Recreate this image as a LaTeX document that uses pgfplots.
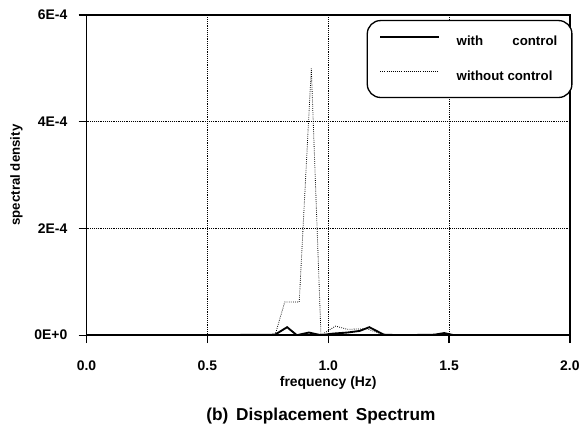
\documentclass[border=0pt]{standalone}
\usepackage{fontspec}
\setmainfont{Liberation Sans}
\usepackage{pgfplots}
\pgfplotsset{compat=1.18}
\begin{document}
\begin{tikzpicture}[x=1pt,y=1pt]
\path (0,0) rectangle (438pt,321.75pt);
\begin{axis}[
  at={(65.25pt,69pt)}, anchor=south west,
  scale only axis,
  width=364.5pt, height=241.5pt,
  xmin=0, xmax=2, ymin=0, ymax=6e-4,
  xtick={0,0.5,1,1.5,2},
  ytick={0,2e-4,4e-4,6e-4},
  yticklabels={0E+0,2E-4,4E-4,6E-4},
  scaled y ticks=false,
  /pgf/number format/fixed,
  /pgf/number format/fixed zerofill,
  /pgf/number format/precision=1,
  /pgf/number format/assume math mode=true,
  xticklabel style={anchor=center, yshift=-17pt},
  yticklabel style={xshift=-5pt},
  tick label style={font=\fontsize{10.5}{12}\selectfont\bfseries},
  tick pos=left,
  tick align=outside,
  major tick length=6pt,
  axis line style={line width=1.3pt},
  major tick style={line width=1pt,black},
  grid=major,
  major grid style={densely dotted, black, line width=0.5pt},
  xlabel={frequency (Hz)},
  ylabel={spectral density},
  xlabel style={at={(axis description cs:0.5,0)}, anchor=center, yshift=-36pt,
    font=\fontsize{10.5}{12}\selectfont\bfseries},
  ylabel style={font=\fontsize{10}{12}\selectfont\bfseries, yshift=2pt},
  legend style={at={(1,1)}, xshift=2pt, yshift=-3.75pt, anchor=north east,
    draw=black, line width=1pt, rounded corners=10pt,
    font=\fontsize{10}{12}\selectfont\bfseries,
    inner xsep=9pt, inner ysep=9pt, row sep=12pt,
    nodes={text height=8pt, text depth=2pt},
    /tikz/every odd column/.append style={column sep=11pt}},
  legend cell align=left,
  legend image code/.code={\draw[#1] (0pt,3.5pt) -- (44pt,3.5pt);},
]
\addplot[black, line width=1.4pt, legend image post style={line width=1.4pt}] coordinates {
 (0,0) (0.5,0) (0.78,0.01e-4) (0.83,0.15e-4) (0.87,0) (0.92,0.05e-4)
 (0.97,0) (1.02,0.03e-4) (1.08,0.05e-4) (1.13,0.08e-4) (1.17,0.15e-4)
 (1.23,0.01e-4) (1.3,0) (1.44,0.01e-4) (1.48,0.04e-4) (1.52,0) (2,0)
};
\addlegendentry{with\hspace{2.2em}control}
\addplot[black, densely dotted, line width=0.6pt, legend image post style={line width=0.6pt}] coordinates {
 (0,0) (0.5,0) (0.78,0) (0.82,0.62e-4) (0.88,0.62e-4) (0.93,5e-4)
 (0.97,0) (1.03,0.17e-4) (1.08,0.11e-4) (1.16,0.12e-4) (1.22,0.02e-4)
 (1.3,0) (2,0)
};
\addlegendentry{without control}
\end{axis}
\node[font=\fontsize{13}{15}\selectfont\bfseries] at (242pt,8.25pt) {(b)\hspace{0.45em}Displacement\hspace{0.45em}Spectrum};
\end{tikzpicture}
\end{document}
